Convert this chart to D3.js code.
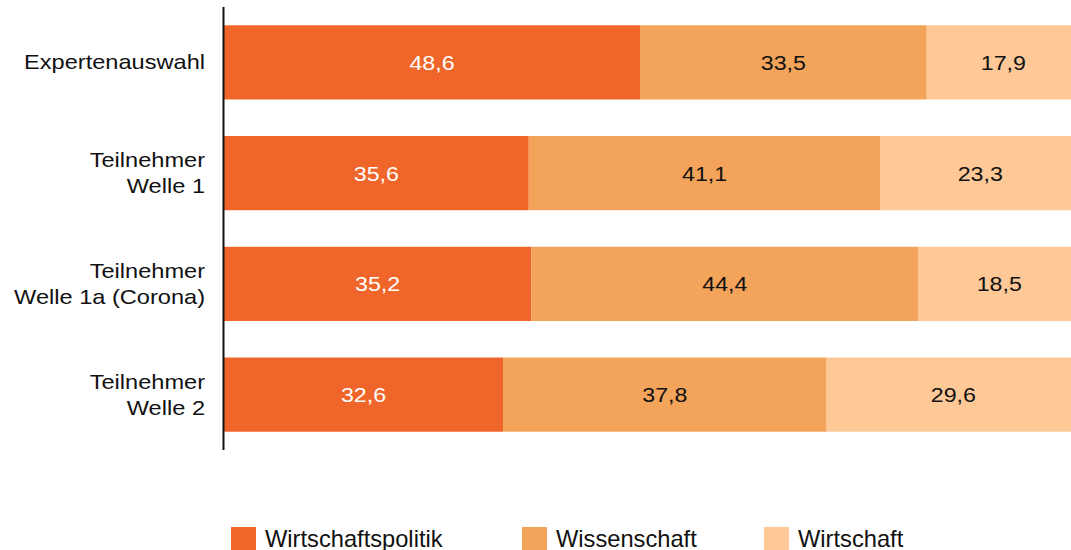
<!DOCTYPE html>
<html lang="en">
<head>
<meta charset="utf-8">
<script src="https://cdn.jsdelivr.net/npm/d3@7"></script>
<style>
  body { margin: 0; background: #fff; }
  svg { display: block; font-family: "Liberation Sans", Arial, sans-serif; }
</style>
</head>
<body>
<svg id="chart" width="1071" height="550"></svg>
<script>
var categories = ["Expertenauswahl", "Teilnehmer\nWelle 1", "Teilnehmer\nWelle 1a (Corona)", "Teilnehmer\nWelle 2"];
var seriesNames = ["Wirtschaftspolitik", "Wissenschaft", "Wirtschaft"];
var wirtschaftspolitik = [48.6, 35.6, 35.2, 32.6];
var wissenschaft = [33.5, 41.1, 44.4, 37.8];
var wirtschaft = [17.9, 23.3, 18.5, 29.6];
var colors = ["#F06529", "#F4A35A", "#FEC996"];
var textColors = ["#ffffff", "#111111", "#111111"];

var svg = d3.select("#chart");

var rows = categories.map(function(c, i) {
  return { cat: c, vals: [wirtschaftspolitik[i], wissenschaft[i], wirtschaft[i]] };
});

var x = d3.scaleLinear().domain([0, 100]).range([224, 1080]);
var y = d3.scaleBand().domain(categories).range([7, 450]).paddingInner(0.33).paddingOuter(0.165);

// 100% stacked: each row normalised to its total
var stackData = rows.map(function(r) {
  var total = d3.sum(r.vals), acc = 0;
  return r.vals.map(function(v, k) {
    var s = { cat: r.cat, k: k, v: v, x0: acc / total * 100, x1: (acc + v) / total * 100 };
    acc += v;
    return s;
  });
});

var rowG = svg.append("g").selectAll("g.row").data(stackData).enter().append("g").attr("class", "row");

rowG.selectAll("rect").data(function(d) { return d; }).enter().append("rect")
  .attr("x", function(d) { return x(d.x0); })
  .attr("width", function(d) { return x(d.x1) - x(d.x0); })
  .attr("y", function(d) { return y(d.cat); })
  .attr("height", y.bandwidth())
  .attr("fill", function(d) { return colors[d.k]; });

rowG.selectAll("text").data(function(d) { return d; }).enter().append("text")
  .attr("transform", function(d) {
    return "translate(" + (x(d.x0) + x(d.x1)) / 2 + "," + (y(d.cat) + y.bandwidth() / 2 + 7.5) + ") scale(1.16,1)";
  })
  .attr("text-anchor", "middle")
  .attr("font-size", 20)
  .attr("fill", function(d) { return textColors[d.k]; })
  .text(function(d) { return d3.format(".1f")(d.v).replace(".", ","); });

// category labels
var yl = svg.append("g").selectAll("text").data(categories).enter().append("text")
  .attr("text-anchor", "end")
  .attr("font-size", 20)
  .attr("fill", "#111")
  .attr("transform", function(d) {
    var n = d.split("\n").length;
    return "translate(205," + (y(d) + y.bandwidth() / 2 + 7 - (n - 1) * 13) + ") scale(1.18,1)";
  });
yl.each(function(d) {
  var t = d3.select(this);
  d.split("\n").forEach(function(l, i) {
    t.append("tspan").attr("x", 0).attr("y", i * 26).text(l);
  });
});

// axis line
svg.append("line")
  .attr("x1", 223.5).attr("x2", 223.5)
  .attr("y1", 7).attr("y2", 450)
  .attr("stroke", "#111").attr("stroke-width", 2);

// legend
var legendX = [231, 522, 764];
var lg = svg.append("g").selectAll("g").data(seriesNames).enter().append("g")
  .attr("transform", function(d, i) { return "translate(" + legendX[i] + ",527)"; });
lg.append("rect").attr("width", 25).attr("height", 25)
  .attr("fill", function(d, i) { return colors[i]; });
lg.append("text").attr("transform", "translate(34,20) scale(1.03,1)")
  .attr("font-size", 23).attr("fill", "#111")
  .text(function(d) { return d; });
</script>
</body>
</html>
